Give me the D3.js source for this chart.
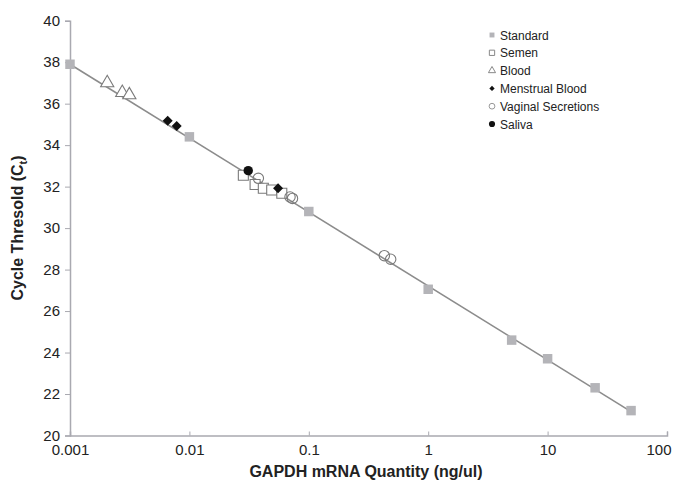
<!DOCTYPE html>
<html>
<head>
<meta charset="utf-8">
<script src="https://cdn.jsdelivr.net/npm/d3@7"></script>
<style>
  body { margin: 0; background: #fff; }
  svg { display: block; font-family: "Liberation Sans", Arial, sans-serif; }
  .tick text { fill: #222; font-size: 15px; }
</style>
</head>
<body>
<svg width="675" height="485"></svg>
<script>
// data
var standardX = [0.001, 0.01, 0.1, 1, 5, 10, 25, 50];
var standardY = [37.9, 34.4, 30.8, 27.05, 24.6, 23.7, 22.3, 21.2];

var semenX = [0.0283, 0.0355, 0.0416, 0.0489, 0.0594];
var semenY = [32.55, 32.1, 31.92, 31.84, 31.68];

var bloodX = [0.00205, 0.00274, 0.00314];
var bloodY = [37.0, 36.53, 36.42];

var menstrualX = [0.00658, 0.00783, 0.0553];
var menstrualY = [35.18, 34.92, 31.92];

var vaginalX = [0.0378, 0.0696, 0.073, 0.429, 0.485];
var vaginalY = [32.4, 31.5, 31.43, 28.67, 28.5];

var salivaX = [0.0311];
var salivaY = [32.77];

var xTicks = [0.001, 0.01, 0.1, 1, 10, 100];
var yTicks = [20, 22, 24, 26, 28, 30, 32, 34, 36, 38, 40];

var legendLabels = ["Standard", "Semen", "Blood", "Menstrual Blood", "Vaginal Secretions", "Saliva"];

// layout
var margin = {top: 20.7, right: 8, bottom: 49.5, left: 70},
    w = 675, h = 485,
    width = w - margin.left - margin.right,
    height = h - margin.top - margin.bottom;

var svg = d3.select("svg");
var g = svg.append("g")
  .attr("transform", "translate(" + margin.left + "," + margin.top + ")");

var x = d3.scaleLog().domain([0.001, 100]).range([0, width]);
var y = d3.scaleLinear().domain([20, 40]).range([height, 0]);

var axisColor = "#a9a9b0";

// x axis
var xAxis = g.append("g")
  .attr("transform", "translate(0," + height + ")")
  .call(d3.axisBottom(x).tickValues(xTicks).tickSize(-4).tickPadding(9)
    .tickFormat(function(d) { return String(d); }));
xAxis.select(".domain").attr("stroke", axisColor).attr("stroke-width", 1.5);
xAxis.selectAll(".tick line").attr("stroke", axisColor);
// last label would run off the page: pull it inside
xAxis.selectAll(".tick text")
  .filter(function(d) { return d === 100; })
  .attr("text-anchor", "end")
  .attr("dx", 4);

// y axis
var yAxis = g.append("g")
  .call(d3.axisLeft(y).tickValues(yTicks).tickSize(5).tickPadding(5));
yAxis.select(".domain").attr("stroke", axisColor).attr("stroke-width", 1.5);
yAxis.selectAll(".tick line").attr("stroke", axisColor);

// fitted line through the standards (least squares on log10 x)
var lx = standardX.map(function(v) { return Math.log10(v); });
var mx = d3.mean(lx), my = d3.mean(standardY);
var sxy = d3.sum(lx, function(v, i) { return (v - mx) * (standardY[i] - my); });
var sxx = d3.sum(lx, function(v) { return (v - mx) * (v - mx); });
var slope = sxy / sxx, icpt = my - slope * mx;
var xs = d3.extent(standardX);

g.append("line")
  .attr("x1", x(xs[0])).attr("y1", y(icpt + slope * Math.log10(xs[0])))
  .attr("x2", x(xs[1])).attr("y2", y(icpt + slope * Math.log10(xs[1])))
  .attr("stroke", "#8c8c8c")
  .attr("stroke-width", 1.6);

function pts(xa, ya) {
  return xa.map(function(v, i) { return {x: v, y: ya[i]}; });
}

function plot(data, shape, size, fill, stroke, sw, rot) {
  g.selectAll(null)
    .data(data)
    .enter()
    .append("path")
    .attr("d", d3.symbol().type(shape).size(size))
    .attr("transform", function(d) {
      return "translate(" + x(d.x) + "," + y(d.y) + ")" + (rot ? " rotate(" + rot + ")" : "");
    })
    .attr("fill", fill)
    .attr("stroke", stroke)
    .attr("stroke-width", sw);
}

plot(pts(standardX, standardY), d3.symbolSquare, 90, "#b4b4b8", "none", 0);
plot(pts(bloodX, bloodY), d3.symbolTriangle, 75, "#fff", "#7a7a7a", 1.1);
plot(pts(semenX, semenY), d3.symbolSquare, 100, "#fff", "#7a7a7a", 1.1);
plot(pts(vaginalX, vaginalY), d3.symbolCircle, 85, "none", "#7a7a7a", 1.1);
plot(pts(menstrualX, menstrualY), d3.symbolSquare, 50, "#111", "none", 0, 45);
plot(pts(salivaX, salivaY), d3.symbolCircle, 70, "#111", "none", 0);

// legend
var legendSpacing = 17.8;
var legendShapes = [
  {type: d3.symbolSquare, size: 24, fill: "#b4b4b8", stroke: "none", rot: 0},
  {type: d3.symbolSquare, size: 28, fill: "#fff", stroke: "#888", rot: 0},
  {type: d3.symbolTriangle, size: 22, fill: "#fff", stroke: "#888", rot: 0},
  {type: d3.symbolSquare, size: 14, fill: "#111", stroke: "none", rot: 45},
  {type: d3.symbolCircle, size: 26, fill: "#fff", stroke: "#999", rot: 0},
  {type: d3.symbolCircle, size: 30, fill: "#111", stroke: "none", rot: 0}
];

var legend = svg.selectAll(".legend")
  .data(legendLabels)
  .enter()
  .append("g")
  .attr("class", "legend")
  .attr("transform", function(d, i) {
    return "translate(492," + (35 + i * legendSpacing) + ")";
  });

legend.append("path")
  .attr("d", function(d, i) { return d3.symbol().type(legendShapes[i].type).size(legendShapes[i].size)(); })
  .attr("transform", function(d, i) { return "rotate(" + legendShapes[i].rot + ")"; })
  .attr("fill", function(d, i) { return legendShapes[i].fill; })
  .attr("stroke", function(d, i) { return legendShapes[i].stroke; })
  .attr("stroke-width", 1);

legend.append("text")
  .attr("x", 8)
  .attr("y", 4.5)
  .attr("font-size", 12)
  .attr("fill", "#222")
  .text(function(d) { return d; });

// axis titles
svg.append("text")
  .attr("x", 366)
  .attr("y", 477)
  .attr("text-anchor", "middle")
  .attr("font-weight", "bold")
  .attr("font-size", 16)
  .attr("fill", "#222")
  .text("GAPDH mRNA Quantity (ng/ul)");

var yt = svg.append("text")
  .attr("transform", "translate(23,228) rotate(-90)")
  .attr("text-anchor", "middle")
  .attr("font-weight", "bold")
  .attr("font-size", 16)
  .attr("fill", "#222");
yt.append("tspan").text("Cycle Thresold (C");
yt.append("tspan").attr("font-size", 11).attr("dy", 4).text("t");
yt.append("tspan").attr("dy", -4).text(")");
</script>
</body>
</html>
